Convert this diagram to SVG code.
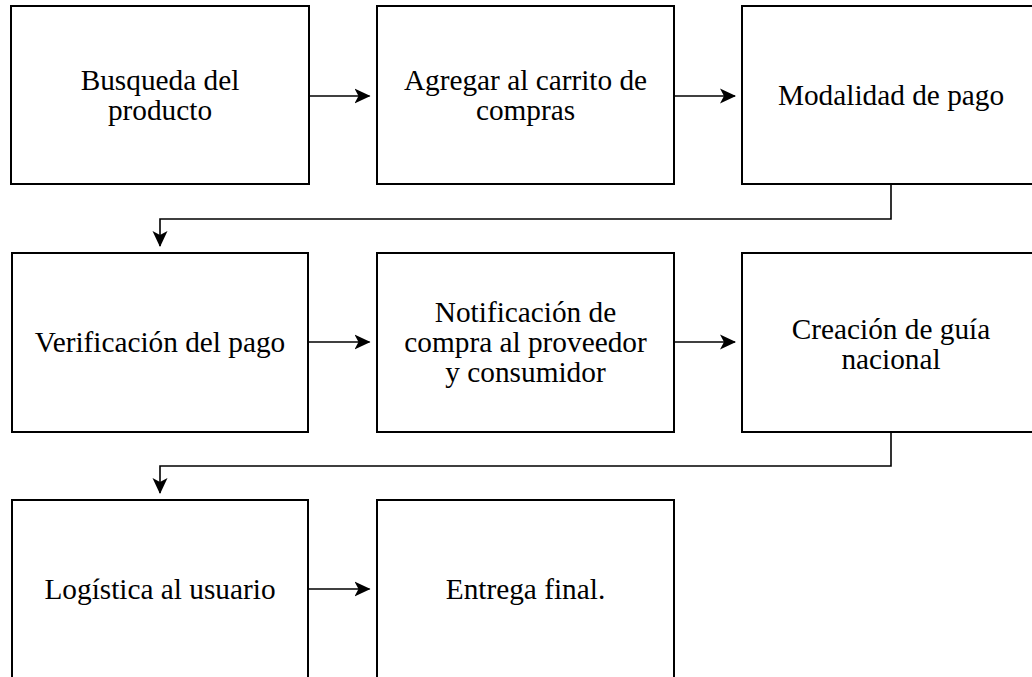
<svg xmlns="http://www.w3.org/2000/svg" width="1032" height="677" viewBox="0 0 1032 677">
<defs>
<marker id="arr" viewBox="0 0 16 16" refX="15" refY="8" markerWidth="16" markerHeight="16" markerUnits="userSpaceOnUse" orient="auto">
<path d="M0,0.5 L16,8 L0,15.5 L4,8 Z" fill="#000"/>
</marker>
<style>
.box{fill:#fff;stroke:#000;stroke-width:2}
.lbl{font-family:"Liberation Serif","Times New Roman",serif;font-size:29.3px;fill:#000;text-anchor:middle}
.con{fill:none;stroke:#000;stroke-width:1.6}
</style>
</defs>
<rect width="1032" height="677" fill="#fff"/>
<g id="n1"><rect class="box" x="11" y="6" width="298" height="178"/><text class="lbl" x="160" y="90">Busqueda del</text><text class="lbl" x="160" y="119.5">producto</text></g>
<g id="n2"><rect class="box" x="377" y="6" width="297" height="178"/><text class="lbl" x="525.5" y="90">Agregar al carrito de</text><text class="lbl" x="525.5" y="119.5">compras</text></g>
<g id="n3"><rect class="box" x="742" y="6" width="298" height="178"/><text class="lbl" x="891" y="104.5">Modalidad de pago</text></g>
<g id="n4"><rect class="box" x="12" y="253" width="296" height="179"/><text class="lbl" x="160" y="352">Verificación del pago</text></g>
<g id="n5"><rect class="box" x="377" y="253" width="297" height="179"/><text class="lbl" x="525.5" y="322">Notificación de</text><text class="lbl" x="525.5" y="352">compra al proveedor</text><text class="lbl" x="525.5" y="382">y consumidor</text></g>
<g id="n6"><rect class="box" x="742" y="253" width="298" height="179"/><text class="lbl" x="891" y="339">Creación de guía</text><text class="lbl" x="891" y="368.5">nacional</text></g>
<g id="n7"><rect class="box" x="12" y="500" width="296" height="179"/><text class="lbl" x="160" y="598.5">Logística al usuario</text></g>
<g id="n8"><rect class="box" x="377" y="500" width="297" height="179"/><text class="lbl" x="525.5" y="599">Entrega final.</text></g>
<g id="connectors">
<path class="con" d="M309,96 H369.5" marker-end="url(#arr)"/>
<path class="con" d="M674,96 H735" marker-end="url(#arr)"/>
<path class="con" d="M891,184 V219 H160 V246" marker-end="url(#arr)"/>
<path class="con" d="M308,342 H369.5" marker-end="url(#arr)"/>
<path class="con" d="M674,342 H735" marker-end="url(#arr)"/>
<path class="con" d="M891,432 V466 H160 V493" marker-end="url(#arr)"/>
<path class="con" d="M308,589 H369.5" marker-end="url(#arr)"/>
</g>
</svg>
